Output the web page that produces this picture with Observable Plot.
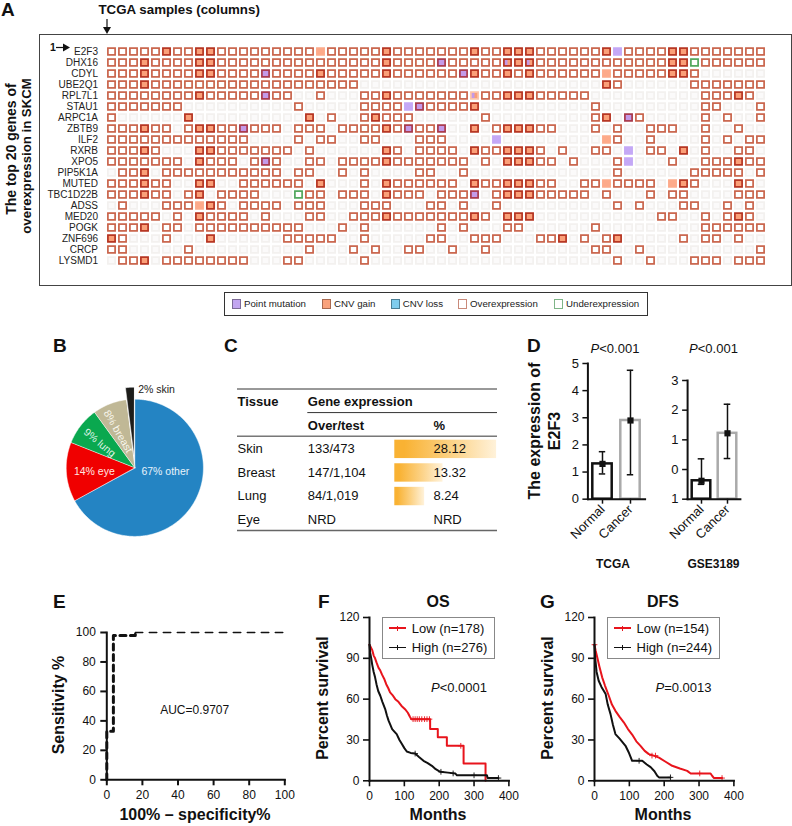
<!DOCTYPE html>
<html>
<head>
<meta charset="utf-8">
<script src="https://cdn.jsdelivr.net/npm/d3@7"></script>
<script src="https://cdn.jsdelivr.net/npm/@observablehq/plot@0.6"></script>
<style>
html,body{margin:0;padding:0;background:#fff}
#fig{position:relative;width:792px;height:826px;overflow:hidden;font-family:"Liberation Sans",Arial,sans-serif;color:#111}
.t{position:absolute;white-space:nowrap;line-height:1}
</style>
</head>
<body>
<div id="fig"></div>
<script>
// ---------- data ----------
const genes = ["E2F3","DHX16","CDYL","UBE2Q1","RPL7L1","STAU1","ARPC1A","ZBTB9","ILF2","RXRB","XPO5","PIP5K1A","MUTED","TBC1D22B","ADSS","MED20","POGK","ZNF696","CRCP","LYSMD1"];
// o over, g gain+over, G gain, m mutation+over, M mutation, h/H mutation+gain, u under, . none
const oncoRows = [
"ooooogoogg oooooooooG ooooogoooo ooogoogggo ooooogMooo oggooooooo",
"ooogoooogg oooooooooo ooooogoooo mooooohgho oooooooooo ogguoooooo",
"ooogoooogg oooomoooog ooooogoooo oomgoogogo oooooGoooo oggo......",
"ooogoooooo oooooooooo ooo....... .......... .....go... ...ooooooo",
"oooooooogo oooomoo..o ...oogoooo oooHoogggo oooo...... ....ooogo.",
"ooooooo... .......o.. ...ooooMmo ooog...... ....o..... ....oo...o",
"o......g.. ........g. o..ogooo.. ....o..... ....og.mo. ....o.o..o",
"ooogoo.ogg oomooo.ooo .oooogomoo m..g.ogggo o...o.o..o oo..o..o..",
"oooooooooo ooo....o.o o..oo...oo o....M.... .....Go..o ....o.o.oo",
"ooogo...gg ooooooo.o. .....go.oo oo.googggo .o..oo.M.o o.g.o..oo.",
"ooooooo.go oo.omo..oo .oooogoooo ooo.o.gggo o.o...oM.. .o..ooogoo",
".oog.ooooo oooooo.oo. .o.o....oo ..o....... ......o... ...ooooo.o",
"ooogoo..gg ..oooooo.g ...o.goooo oo.googggo o..ooGoooo .Ggo...go.",
"ooogoo.og. oooo...uoo .ooo.gooo. ooom.ogggo oooo.o...o .oo....ooo",
".o...oooGg o.oooo.ooo ...ooo...o o.o..o.... ......o.o. ..oo..o.o.",
"ooooo.o.go ooo.o...oo ..ooogoooo ooogo.ggg. .......... oo..o.ogo.",
"ooog.oo.oo oooooooo.. .o.o...... o.o...oo.. ....o..... ....oooooo",
"go...o...g ......oooo o..o.....o o..ooo...o og.o.og... ..o.oo.o..",
"oo.....o.. ........o. ..o.o..oo. .o..o..... ....oo..o. .........o",
".oog.ooooo ooo...oo.. ...o...... .......... ......o..o ...ooo.ooo"
];
const legendItems = ["Point mutation","CNV gain","CNV loss","Overexpression","Underexpression"];

const pieNames = ["other","eye","lung","breast","skin"];
const pieShares = [67,14,9,8,2];
const pieColors = ["#2484c3","#f00000","#0aa84f","#c0b896","#1d1d1b"];

const tableTissue = ["Skin","Breast","Lung","Eye"];
const tableOverTest = ["133/473","147/1,104","84/1,019","NRD"];
const tablePctText = ["28.12","13.32","8.24","NRD"];
const tablePct = [28.12,13.32,8.24];

const groupsD = ["Normal","Cancer"];
const tcgaMean = [1.3,2.9], tcgaLow = [0.93,0.9], tcgaHigh = [1.75,4.75];
const gseMean = [-0.38,1.22], gseLow = [-0.5,0.37], gseHigh = [0.36,2.2];

const rocFprA = [0,0,3.7,3.7,16,16], rocSensA = [0,33,33,98,98,100];
const rocFprB = [16,100], rocSensB = [100,100];

const osLowM = [0,4,8,12,16,20,26,31,36,42,48,54,59,66,74,83,92,102,110,116,120,174,174,196,196,222,222,270,270,333,333];
const osLowP = [100,98,96,92,90,87,83,81,78,75,71,68,65,63,60,58,55,52.6,50,47,45.3,45.3,38,38,32,32,25.7,25.7,12.7,12.7,0];
const osHighM = [0,2,5,8,12,16,20,25,31,37,45,50,55,59,65,72,78,86,93,100,107,118,131,142,155,167,179,190,203,225,246,251,337,339,370];
const osHighP = [100,94,90,85,80,76,71,66,62.5,58,52.7,48,44,41.6,38,36,34.3,30,27,24,21.5,20.5,20,17.5,14.7,13,11,8.5,6.6,6,5.4,4,4,2,2];
const osLowCensM = [125,131,137,143,150,158,165,172,262], osLowCensP = [45.3,45.3,45.3,45.3,45.3,45.3,45.3,45.3,25.7];
const osHighCensM = [131,205,240,300,370], osHighCensP = [20,6.6,5.4,4,2];

const dfsLowM = [0,3,8,14,22,30,41,50,60,72,84,96,108,120,132,144,156,170,185,204,223,245,266,276,333,338,343,366];
const dfsLowP = [100,96,90.6,84,76,70,62.5,56,51.4,47,43,38,34,29,25.7,22,19.6,18.5,17,14,11,9,7.3,5.4,5.4,3.5,2,2];
const dfsHighM = [0,2,6,12,20,32,38,46,53,60,72,89,98,108,137,150,161,172,180,185,218];
const dfsHighP = [100,90,80,73.5,69,63.7,56,49,41,34.3,31,25.7,21,14.7,14.7,12,10,7,3.7,2.5,2.5];
const dfsLowCensM = [0,165,175,302,366], dfsLowCensP = [100,18.5,18.5,5.4,2];
const dfsHighCensM = [128,218], dfsHighCensP = [14.7,2.5];

// ---------- helpers ----------
const FONT = '"Liberation Sans",Arial,sans-serif';
const fig = document.getElementById("fig");
function put(svg,left,top){svg.style.position="absolute";svg.style.left=left+"px";svg.style.top=top+"px";svg.style.maxWidth="none";svg.style.background="transparent";fig.appendChild(svg);return svg;}
function txt(x,y,html,o={}){
  const d=document.createElement("div");d.className="t";d.innerHTML=html;
  d.style.left=x+"px";d.style.top=y+"px";
  d.style.fontSize=(o.size||12)+"px";
  if(o.bold)d.style.fontWeight="bold";
  if(o.color)d.style.color=o.color;
  const ax={left:"0%",center:"-50%",right:"-100%"}[o.anchor||"center"];
  d.style.transform=`translate(${ax},-50%)`+(o.rotate?` rotate(${o.rotate}deg)`:"");
  if(o.rotate)d.style.transformOrigin="50% 50%";
  fig.appendChild(d);return d;
}
function box(l,t,w,h,border){const d=document.createElement("div");d.style.cssText=`position:absolute;left:${l}px;top:${t}px;width:${w}px;height:${h}px;border:${border};box-sizing:border-box;background:transparent`;fig.appendChild(d);return d;}
const style={fontFamily:FONT,background:"transparent",color:"#111",overflow:"visible"};

// ---------- A oncoprint ----------
box(39,34,753,251.5,"1.4px solid #444");
const cells=[];
oncoRows.forEach((s,r)=>{[...s.replace(/ /g,"")].forEach((c,i)=>cells.push({gene:genes[r],col:i,t:c}));});
const fillOf={".":"#fbfafa",o:"#fff",g:"#fa9f78",G:"#fdaa8a",m:"#c49ae8",M:"#c4a8f6",h:"url(#halfMut)",H:"url(#halfMut)",u:"#fff"};
const strokeOf={".":"#f3f1ef",o:"#c9634a",g:"#b53320",G:"#fdaa8a",m:"#a8384a",M:"#c4a8f6",h:"#b53320",H:"#fdc3a8",u:"#4fa65b"};
put(Plot.plot({
  width:753,height:251.5,marginLeft:62,marginRight:22,marginTop:6.9,marginBottom:13.6,style,
  x:{type:"band",domain:d3.range(60),padding:0,axis:null},
  y:{type:"band",domain:genes,padding:0,axis:null},
  color:{type:"identity"},
  marks:[
    ()=>d3.create("svg:defs").html('<linearGradient id="halfMut"><stop offset="0.45" stop-color="#c49ae8"/><stop offset="0.55" stop-color="#fa9f78"/></linearGradient>').node(),
    Plot.axisY({anchor:"left",tickSize:0,tickPadding:3.5,fontSize:10,label:null,color:"#222"}),
    Plot.cell(cells,{x:"col",y:"gene",fill:d=>fillOf[d.t],stroke:d=>strokeOf[d.t],strokeWidth:1.7,insetLeft:1.9,insetRight:1.9,insetTop:2.1,insetBottom:2.1})
  ]
}),39,34);

txt(98.5,10,"TCGA samples (columns)",{size:13.3,bold:true,anchor:"left"});
txt(10.5,149,"The top 20 genes of",{size:14,bold:true,rotate:-90});
txt(27,155.5,"overexpression in SKCM",{size:13.2,bold:true,rotate:-90});
txt(50,47,"1",{size:10.5,bold:true,anchor:"left"});
const ns="http://www.w3.org/2000/svg";
const arrows=document.createElementNS(ns,"svg");
arrows.setAttribute("width",792);arrows.setAttribute("height",60);
arrows.innerHTML='<path d="M107 19V29" stroke="#111" stroke-width="1.2"/><path d="M103 27L107 34L111 27Z" fill="#111"/><path d="M56 47.5H64" stroke="#111" stroke-width="1.2"/><path d="M63 43.5L70 47.5L63 51.5Z" fill="#111"/>';
put(arrows,0,0);

// legend
box(224,291.5,424,24,"1.4px solid #333");
const legendSw=[[231.5,"#c2a5f0","#7c6a96"],[321.5,"#f9a27c","#a8694f"],[390.5,"#7fcdee","#4a7f96"],[457.5,"#fff","#c98a7a"],[553.5,"#fff","#7fb588"]];
const legendTx=[244,334,402.7,470,566];
legendItems.forEach((n,i)=>{
  const s=box(legendSw[i][0],299,9.5,9.5,`1px solid ${legendSw[i][2]}`);s.style.background=legendSw[i][1];
  txt(legendTx[i],303.7,n,{size:9.7,anchor:"left",color:"#222"});
});

// panel letters
[["A",1,9],["B",53,345],["C",224,345],["D",527,345],["E",53,601],["F",318,601],["G",540,601]].forEach(([l,x,y])=>txt(x,y,l,{size:19,bold:true,anchor:"left"}));

// ---------- B pie ----------
const R=68.6, pieW=2.4*R;
const piePts=[];let cum=0;
pieShares.forEach((v,i)=>{
  const mid=(cum+v/2)/100*2*Math.PI, off=pieNames[i]==="skin"?0.175:0;
  const ox=off*Math.sin(mid), oy=off*Math.cos(mid);
  piePts.push({name:pieNames[i],color:pieColors[i],x:ox,y:oy});
  for(let s=cum;s<=cum+v+1e-9;s+=0.25){const a=s/100*2*Math.PI;piePts.push({name:pieNames[i],color:pieColors[i],x:ox+Math.sin(a),y:oy+Math.cos(a)});}
  cum+=v;
});
const pieLabels=[
 {text:"67% other",x:0.445,y:-0.05,rotate:0,fill:"#e8f3fb"},
 {text:"14% eye",x:-0.59,y:-0.05,rotate:0,fill:"#ffe6e0"},
 {text:"9% lung",x:-0.513,y:0.365,rotate:40,fill:"#dff3e5"},
 {text:"8% breast",x:-0.245,y:0.53,rotate:60,fill:"#f8f6ec"},
 {text:"2% skin",x:0.05,y:1.14,rotate:0,fill:"#222",textAnchor:"start"}
];
put(Plot.plot({
  width:pieW,height:pieW,margin:0,style,
  x:{domain:[-1.2,1.2],axis:null},y:{domain:[-1.2,1.2],axis:null},color:{type:"identity"},
  marks:[
    Plot.line(piePts,{x:"x",y:"y",z:"name",fill:"color",stroke:"#fff",strokeWidth:0.5,curve:"linear-closed"}),
    Plot.text(pieLabels.slice(0,4),{x:"x",y:"y",text:"text",rotate:"rotate",fill:"fill",fontSize:10.5}),
    Plot.text(pieLabels.slice(4),{x:"x",y:"y",text:"text",fill:"fill",fontSize:10.5,textAnchor:"start"})
  ]
}),134.5-pieW/2,467.3-pieW/2);

// ---------- C table ----------
const barRows=tablePct.map((v,i)=>({v,r:i+2}));
const tblRows=tableTissue.map((t,i)=>({t,o:tableOverTest[i],p:tablePctText[i],r:i+2}));
put(Plot.plot({
  width:260,height:142,margin:0,style,
  x:{domain:[-43.45,28.37],axis:null},y:{domain:[0,6],range:[0.5,142],axis:null},
  marks:[
    ()=>d3.create("svg:defs").html('<linearGradient id="tblGrad"><stop offset="0.1" stop-color="#f9b233"/><stop offset="0.55" stop-color="#fcd183"/><stop offset="1" stop-color="#fff2da"/></linearGradient>').node(),
    Plot.rect(barRows,{x1:()=>0,x2:"v",y1:d=>d.r+0.17,y2:d=>d.r+0.95,fill:"url(#tblGrad)"}),
    Plot.ruleY([0,2],{stroke:"#333",strokeWidth:1}),
    Plot.ruleY([1],{stroke:"#333",strokeWidth:1,insetLeft:70.3}),
    Plot.ruleY([6],{stroke:"#666",strokeWidth:1.4}),
    Plot.text(["Tissue"],{y:()=>0.55,text:d=>d,frameAnchor:"left",textAnchor:"start",fontSize:13,fontWeight:"bold"}),
    Plot.text(["Gene expression"],{y:()=>0.55,text:d=>d,frameAnchor:"left",textAnchor:"start",dx:70.3,fontSize:13,fontWeight:"bold"}),
    Plot.text(["Over/test"],{y:()=>1.55,text:d=>d,frameAnchor:"left",textAnchor:"start",dx:70.3,fontSize:13,fontWeight:"bold"}),
    Plot.text(["%"],{y:()=>1.55,text:d=>d,frameAnchor:"left",textAnchor:"start",dx:196,fontSize:13,fontWeight:"bold"}),
    Plot.text(tblRows,{y:d=>d.r+0.55,text:"t",frameAnchor:"left",textAnchor:"start",fontSize:13}),
    Plot.text(tblRows,{y:d=>d.r+0.55,text:"o",frameAnchor:"left",textAnchor:"start",dx:70.3,fontSize:13}),
    Plot.text(tblRows,{y:d=>d.r+0.55,text:"p",frameAnchor:"left",textAnchor:"start",dx:196,fontSize:13})
  ]
}),236.7,388.3);

// ---------- D bars ----------
function barPanel(mean,low,high,yDom,yTicks,base,left,top,ml,step,inset,plotH,fmt){
  const rows=groupsD.map((g,i)=>({g,m:mean[i],lo:low[i],hi:high[i],c:i?"#aaaaaa":"#111"}));
  return put(Plot.plot({
    width:ml+2*step+4,height:plotH+62,marginLeft:ml,marginRight:4,marginTop:0,marginBottom:62,style,
    x:{type:"band",domain:groupsD,padding:0,axis:null},
    y:{domain:yDom,range:[plotH,0],axis:null},
    color:{type:"identity"},
    marks:[
      Plot.rect(rows,{x:"g",y1:()=>base,y2:"m",fill:"#fff",stroke:"c",strokeWidth:2.5,insetLeft:inset,insetRight:inset}),
      Plot.ruleX(rows,{x:"g",y1:"lo",y2:"hi",stroke:"#111",strokeWidth:1.5}),
      Plot.tickY(rows,{x:"g",y:"lo",stroke:"#111",strokeWidth:1.5,insetLeft:step/2-3.5,insetRight:step/2-3.5}),
      Plot.tickY(rows,{x:"g",y:"hi",stroke:"#111",strokeWidth:1.5,insetLeft:step/2-3.5,insetRight:step/2-3.5}),
      Plot.dot(rows,{x:"g",y:"m",symbol:"square",fill:"#111",stroke:"none",r:3.5}),
      Plot.axisY({ticks:yTicks,tickFormat:fmt,tickSize:5,tickPadding:4,fontSize:13,label:null,strokeWidth:1.5}),
      Plot.axisX({anchor:"bottom",tickSize:5,tickPadding:3,tickRotate:-45,fontSize:13,label:null,strokeWidth:1.5}),
      Plot.frame({anchor:"left",stroke:"#111",strokeWidth:2}),
      Plot.frame({anchor:"bottom",stroke:"#111",strokeWidth:2})
    ]
  }),left,top);
}
barPanel(tcgaMean,tcgaLow,tcgaHigh,[0,5],[0,1,2,3,4,5],0,557,363.3,30.4,28.6,4.3,135.7,d3.format("d"));
barPanel(gseMean,gseLow,gseHigh,[-1,3],[-1,0,1,2,3],-1,657,380.3,30.1,26.4,3.7,118.7,d=>String(Math.abs(d)));
txt(615,347.7,"<i>P</i>&lt;0.001",{size:13});
txt(713.5,347.7,"<i>P</i>&lt;0.001",{size:13});
txt(535,431,"The expression of",{size:16,bold:true,rotate:-90});
txt(555,431,"E2F3",{size:16,bold:true,rotate:-90});
txt(613,563.5,"TCGA",{size:12,bold:true});
txt(713.5,563.5,"GSE3189",{size:12,bold:true});

// ---------- E ROC ----------
const rocA=rocFprA.map((x,i)=>({x,y:rocSensA[i]})), rocB=rocFprB.map((x,i)=>({x,y:rocSensB[i]}));
const plotE=Plot.plot({
  width:178+36.3+16,height:147.3+6+25,marginLeft:36.3,marginRight:16,marginTop:6,marginBottom:25,style,
  x:{domain:[0,100],axis:null},y:{domain:[0,100],axis:null},
  marks:[
    Plot.line(rocA,{x:"x",y:"y",stroke:"#111",strokeWidth:3,strokeDasharray:"6,4.5"}),
    Plot.line(rocB,{x:"x",y:"y",stroke:"#111",strokeWidth:1.5,strokeDasharray:"7.5,6.5"}),
    Plot.axisY({ticks:[0,20,40,60,80,100],tickSize:6,tickPadding:5,fontSize:12,label:null,strokeWidth:2}),
    Plot.axisX({ticks:[0,20,40,60,80,100],tickSize:6,tickPadding:5,fontSize:12,label:null,strokeWidth:2}),
    Plot.frame({anchor:"left",stroke:"#111",strokeWidth:2}),
    Plot.frame({anchor:"bottom",stroke:"#111",strokeWidth:2})
  ]
});
put(plotE,70,625.7);
txt(194.7,709.7,"AUC=0.9707",{size:12});
txt(59,705,"Sensitivity %",{size:16,bold:true,rotate:-90});
txt(195,815,"100% – specificity%",{size:16,bold:true});

// ---------- F / G survival ----------
function survival(lowM,lowP,highM,highP,lowCM,lowCP,highCM,highCP,left){
  const mk=(M,P)=>M.map((m,i)=>({m,p:P[i]}));
  return put(Plot.plot({
    width:139.4+30+16,height:163.3+10+25,marginLeft:30,marginRight:16,marginTop:10,marginBottom:25,style,
    x:{domain:[0,400],axis:null},y:{domain:[0,120],axis:null},
    marks:[
      Plot.line(mk(lowM,lowP),{x:"m",y:"p",stroke:"#e8141c",strokeWidth:2}),
      Plot.dot(mk(lowCM,lowCP),{x:"m",y:"p",symbol:"plus",stroke:"#e8141c",r:2,strokeWidth:0.9}),
      Plot.line(mk(highM,highP),{x:"m",y:"p",stroke:"#111",strokeWidth:2}),
      Plot.dot(mk(highCM,highCP),{x:"m",y:"p",symbol:"plus",stroke:"#111",r:2,strokeWidth:0.9}),
      Plot.axisY({ticks:[0,30,60,90,120],tickSize:6,tickPadding:4,fontSize:12,label:null,strokeWidth:1.6}),
      Plot.axisX({ticks:[0,100,200,300,400],tickSize:6,tickPadding:5,fontSize:12,label:null,strokeWidth:1.6}),
      Plot.frame({anchor:"left",stroke:"#111",strokeWidth:2}),
      Plot.frame({anchor:"bottom",stroke:"#111",strokeWidth:2})
    ]
  }),left,606.7);
}
survival(osLowM,osLowP,osHighM,osHighP,osLowCensM,osLowCensP,osHighCensM,osHighCensP,339.3);
survival(dfsLowM,dfsLowP,dfsHighM,dfsHighP,dfsLowCensM,dfsLowCensP,dfsHighCensM,dfsHighCensP,564);

function survLegend(l,w,lowTxt,highTxt){
  box(l,616.7,w,42.5,"1.2px solid #888");
  [[628,"#e8141c",lowTxt],[647.3,"#111",highTxt]].forEach(([y,c,t])=>{
    const a=document.createElement("div");a.style.cssText=`position:absolute;left:${l+7.5}px;top:${y-0.7}px;width:17px;height:1.4px;background:${c}`;fig.appendChild(a);
    const b=document.createElement("div");b.style.cssText=`position:absolute;left:${l+15.5}px;top:${y-2.5}px;width:1px;height:5px;background:${c}`;fig.appendChild(b);
    txt(l+30,y,t,{size:13,anchor:"left"});
  });
}
survLegend(381.7,113.5,"Low (n=178)","High (n=276)");
survLegend(606.5,113.5,"Low (n=154)","High (n=244)");
txt(438,601.7,"OS",{size:16,bold:true});
txt(663,601.7,"DFS",{size:16,bold:true});
txt(431,686.7,"<i>P</i>&lt;0.0001",{size:13,anchor:"left"});
txt(655.5,686.7,"<i>P</i>=0.0013",{size:13,anchor:"left"});
txt(323,698,"Percent survival",{size:16,bold:true,rotate:-90});
txt(548,698,"Percent survival",{size:16,bold:true,rotate:-90});
txt(438,815,"Months",{size:16,bold:true});
txt(663,815,"Months",{size:16,bold:true});
</script>
</body>
</html>
